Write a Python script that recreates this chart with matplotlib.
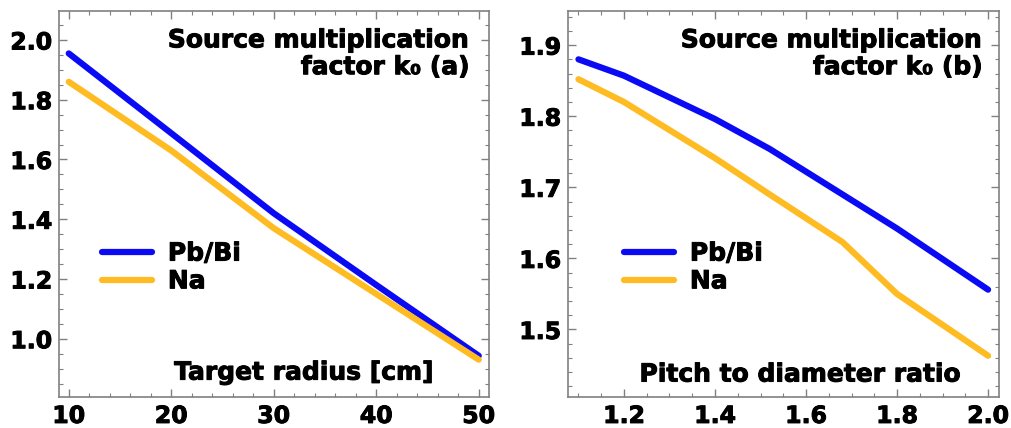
import numpy as np
import matplotlib
matplotlib.use('Agg')
import matplotlib.pyplot as plt
import matplotlib.patheffects as pe
from matplotlib.ticker import MultipleLocator

plt.rcParams['font.family'] = ['DejaVu Sans']
plt.rcParams['font.weight'] = 'bold'

# Panel (a): target radius
radius = [10, 20, 30, 40, 50]
k_pbbi_a = [1.955, 1.688, 1.42, 1.18, 0.943]
k_na_a = [1.86, 1.63, 1.37, 1.15, 0.93]

# Panel (b): pitch to diameter ratio
pd_ratio = [1.1, 1.2, 1.4, 1.52, 1.68, 1.8, 2.0]
k_pbbi_b = [1.88, 1.857, 1.796, 1.754, 1.69, 1.642, 1.556]
k_na_b = [1.852, 1.82, 1.741, 1.69, 1.623, 1.55, 1.463]

blue = '#0a0af5'
gold = '#ffbb22'
frame = '#808080'
heavy = [pe.withStroke(linewidth=0.7, foreground='black')]

fig = plt.figure(figsize=(10.11, 4.28), dpi=100)
ax_a = fig.add_axes([59 / 1011, 31 / 428, 430 / 1011, 386 / 428])
ax_b = fig.add_axes([568 / 1011, 31 / 428, 431 / 1011, 386 / 428])


def style(ax, xmaj, xmin, ymaj, ymin):
    for s in ax.spines.values():
        s.set_color(frame)
        s.set_linewidth(1.2)
    ax.xaxis.set_major_locator(MultipleLocator(xmaj))
    ax.xaxis.set_minor_locator(MultipleLocator(xmin))
    ax.yaxis.set_major_locator(MultipleLocator(ymaj))
    ax.yaxis.set_minor_locator(MultipleLocator(ymin))
    ax.tick_params(which='both', direction='in', top=True, right=True, color=frame)
    ax.tick_params(which='major', length=6, width=1, labelsize=17, pad=5)
    ax.tick_params(which='minor', length=3, width=0.8)
    for lab in ax.get_xticklabels() + ax.get_yticklabels():
        lab.set_fontweight('bold')
        lab.set_path_effects(heavy)


def add_legend(ax, x0):
    leg = ax.legend(loc='upper left', bbox_to_anchor=(x0, 0.435), frameon=False,
                    prop={'size': 18, 'weight': 'bold'}, handlelength=2.0,
                    handletextpad=0.65, labelspacing=0.15, borderpad=0)
    for t in leg.get_texts():
        t.set_path_effects(heavy)


# (a)
ax_a.plot(radius, k_pbbi_a, color=blue, linewidth=4.5, solid_capstyle='round', label='Pb/Bi')
ax_a.plot(radius, k_na_a, color=gold, linewidth=4.5, solid_capstyle='round', label='Na')
ax_a.set_xlim(9.05, 51.0)
ax_a.set_ylim(0.805, 2.097)
style(ax_a, 10, 2, 0.2, 0.05)
ax_a.text(0.956, 0.955, 'Source multiplication\nfactor k\u2080 (a)', transform=ax_a.transAxes,
          ha='right', va='top', fontsize=18, fontweight='bold', linespacing=1.15,
          path_effects=heavy)
ax_a.text(0.57, 0.045, 'Target radius [cm]', transform=ax_a.transAxes,
          ha='center', va='baseline', fontsize=18, fontweight='bold', path_effects=heavy)
add_legend(ax_a, 0.07)

# (b)
ax_b.plot(pd_ratio, k_pbbi_b, color=blue, linewidth=4.5, solid_capstyle='round', label='Pb/Bi')
ax_b.plot(pd_ratio, k_na_b, color=gold, linewidth=4.5, solid_capstyle='round', label='Na')
ax_b.set_xlim(1.077, 2.024)
ax_b.set_ylim(1.405, 1.948)
style(ax_b, 0.2, 0.05, 0.1, 0.02)
ax_b.text(0.963, 0.955, 'Source multiplication\nfactor k\u2080 (b)', transform=ax_b.transAxes,
          ha='right', va='top', fontsize=18, fontweight='bold', linespacing=1.15,
          path_effects=heavy)
ax_b.text(0.54, 0.04, 'Pitch to diameter ratio', transform=ax_b.transAxes,
          ha='center', va='baseline', fontsize=18, fontweight='bold', path_effects=heavy)
add_legend(ax_b, 0.10)

fig.savefig('out.png', dpi=100)
